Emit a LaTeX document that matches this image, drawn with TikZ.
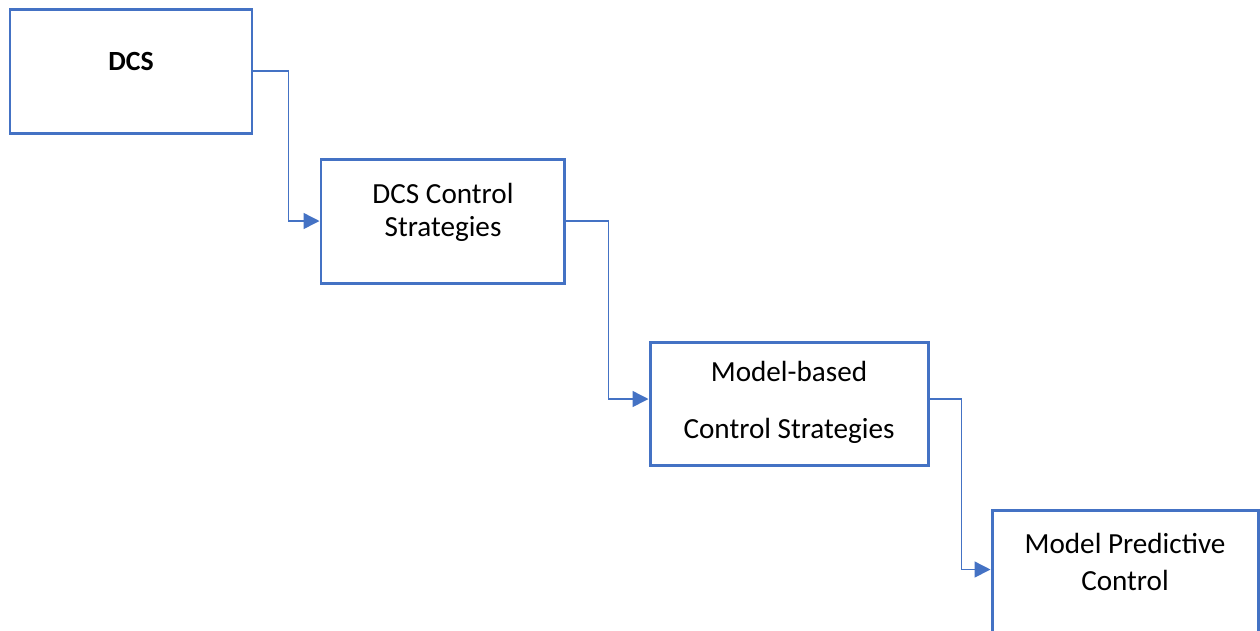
\documentclass[tikz,border=0pt]{standalone}
\usepackage{fontspec}
\setmainfont{Carlito}
\usetikzlibrary{arrows.meta,calc}
\definecolor{officeblue}{HTML}{4472C4}
\tikzset{
  stagebox/.style={draw=officeblue, line width=1.7pt, fill=white, rectangle, inner sep=0pt},
  stagetext/.style={font=\fontsize{16.6}{19}\selectfont, inner sep=0pt, anchor=center},
  conn/.style={draw=officeblue, line width=0.8pt,
    -{Triangle[length=9pt, width=9pt]}},
}
\begin{document}
\begin{tikzpicture}[x=0.02cm, y=-0.02cm]
  \useasboundingbox (0,0) rectangle (1260,630);

  % stage boxes
  \node[stagebox, minimum width=242*0.02cm, minimum height=124*0.02cm] (b1) at (131,71) {};
  \node[stagebox, minimum width=243*0.02cm, minimum height=124*0.02cm] (b2) at (442.5,221) {};
  \node[stagebox, minimum width=278*0.02cm, minimum height=123*0.02cm] (b3) at (789,403.5) {};
  \node[stagebox, minimum width=266*0.02cm, minimum height=140*0.02cm] (b4) at (1125,580) {};

  % box captions
  \node[stagetext, font=\fontsize{15.8}{19}\selectfont\bfseries] (t1) at (131,61) {DCS};
  \node[stagetext] (t2a) at (443,193) {DCS Control};
  \node[stagetext] (t2b) at (443,229) {Strategies};
  \node[stagetext] (t3a) at (789,371) {Model-based};
  \node[stagetext] (t3b) at (789,431) {Control Strategies};
  \node[stagetext] (t4a) at (1125,543) {Model Predictive};
  \node[stagetext] (t4b) at (1125,580) {Control};

  % elbow connectors between stages
  \coordinate (in4) at ($(b4.north west)+(0,61)$);
  \draw[conn] (b1.east) -- ++(35,0) |- (b2.west);
  \draw[conn] (b2.east) -- ++(43,0) |- ([yshift=0.09cm]b3.west);
  \draw[conn] ([yshift=0.09cm]b3.east) -- ++(32,0) |- (in4);
\end{tikzpicture}
\end{document}
